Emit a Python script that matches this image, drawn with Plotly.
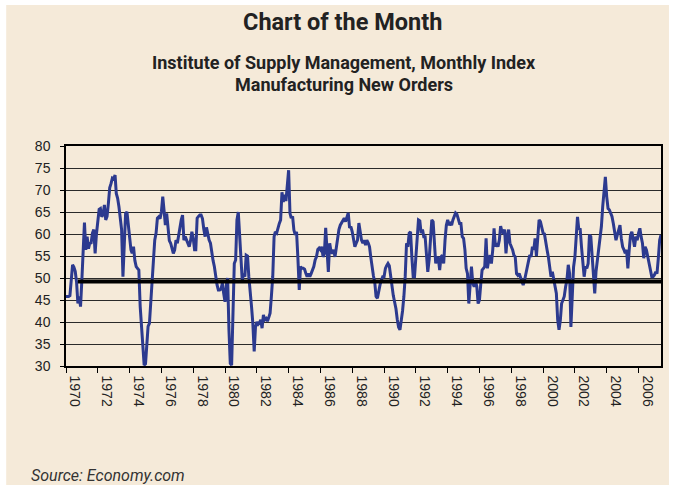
import plotly.graph_objects as go
import pandas as pd

# ISM Manufacturing New Orders index, monthly, Jan 1970 - Jun 2007
new_orders_1970s = [
    45.8, 45.8, 45.8, 46.0, 50.0, 53.0, 52.5, 51.5, 49.0, 44.2, 45.8, 43.5,
    49.7, 57.0, 62.6, 56.4, 59.4, 56.7, 57.9, 58.0, 60.2, 61.0, 55.6, 60.0,
    63.2, 65.6, 65.8, 63.9, 64.5, 66.6, 63.2, 64.0, 67.0, 70.5, 71.5, 72.7,
    72.5, 73.4, 69.2, 68.1, 66.2, 64.0, 61.0, 50.3, 60.2, 64.7, 65.0, 62.0,
    58.0, 56.4, 55.6, 57.1, 54.0, 52.6, 52.2, 51.8, 43.5, 38.2, 33.0, 30.2,
    30.5, 35.9, 39.0, 39.7, 44.2, 51.0, 55.0, 58.6, 60.2, 63.6, 63.9, 63.5,
    65.0, 68.5, 65.5, 62.0, 64.7, 61.7, 58.5, 57.9, 56.4, 55.6, 56.4, 58.6,
    57.9, 60.0, 61.7, 63.2, 64.3, 58.6, 59.4, 58.5, 57.9, 57.1, 58.5, 60.5,
    59.0, 56.4, 56.4, 63.6, 64.0, 64.3, 64.3, 63.5, 61.1, 59.4, 61.5, 60.0,
    58.6, 57.9, 55.6, 54.0, 52.6, 50.3, 48.5, 47.3, 47.3, 47.5, 48.8, 46.5,
]
new_orders_1980s = [
    44.6, 48.5, 50.0, 38.0, 30.6, 30.2, 42.0, 53.3, 54.1, 63.2, 65.0, 60.2,
    54.8, 49.2, 51.0, 50.3, 55.2, 55.0, 50.3, 47.3, 43.5, 39.7, 33.3, 38.9,
    40.0, 39.5, 39.8, 40.5, 38.6, 41.6, 40.5, 40.8, 40.2, 41.0, 42.0, 45.8,
    50.3, 59.4, 60.5, 60.2, 61.5, 62.4, 63.2, 69.5, 67.3, 68.9, 67.5, 71.5,
    74.5, 64.7, 63.6, 64.0, 60.9, 59.8, 60.5, 54.5, 47.3, 52.6, 52.2, 52.2,
    52.0, 51.0, 50.3, 51.0, 50.3, 51.0, 51.8, 52.6, 54.1, 54.8, 56.5, 56.8,
    56.4, 57.1, 54.8, 55.6, 61.4, 54.8, 51.4, 57.9, 56.0, 55.6, 56.4, 54.8,
    57.1, 59.4, 61.0, 62.0, 62.5, 63.2, 63.6, 62.8, 64.1, 64.8, 61.4, 61.7,
    60.5, 59.0, 57.1, 57.9, 58.6, 62.5, 60.0, 58.6, 57.9, 58.6, 57.5, 58.6,
    58.0, 57.1, 54.8, 52.1, 50.5, 49.0, 45.8, 45.4, 47.5, 48.5, 49.5, 50.3,
]
new_orders_1990s = [
    50.3, 52.2, 52.8, 53.3, 52.8, 50.3, 47.3, 46.0, 44.5, 43.0, 40.5, 38.8,
    38.2, 40.0, 42.5, 45.8, 50.3, 57.9, 57.1, 60.2, 60.5, 54.8, 50.3, 50.3,
    55.0, 61.0, 63.2, 63.0, 60.2, 61.0, 59.4, 59.4, 56.0, 51.4, 54.1, 58.6,
    63.2, 62.8, 58.6, 53.3, 54.8, 54.4, 51.8, 54.8, 55.2, 53.3, 58.6, 62.0,
    63.2, 62.0, 62.4, 62.0, 63.2, 64.3, 64.8, 64.5, 63.6, 62.4, 62.4, 59.4,
    59.0, 56.4, 52.2, 51.0, 44.2, 48.8, 52.6, 48.8, 48.0, 49.5, 48.0, 44.2,
    45.0, 48.8, 51.8, 52.2, 52.6, 59.0, 52.2, 54.1, 55.2, 53.3, 56.4, 61.3,
    57.1, 57.9, 57.1, 58.6, 61.8, 60.5, 60.2, 61.0, 55.6, 59.4, 61.0, 57.9,
    57.1, 56.4, 55.2, 54.8, 51.0, 50.6, 51.0, 50.0, 48.8, 48.4, 49.5, 51.0,
    52.0, 53.3, 55.2, 54.8, 57.1, 56.4, 59.0, 55.0, 60.5, 63.2, 62.8, 61.7,
]
new_orders_2000s = [
    60.2, 60.0, 57.9, 56.4, 54.8, 52.2, 50.3, 51.4, 49.5, 48.4, 46.5, 40.5,
    38.2, 40.5, 44.2, 45.0, 45.8, 48.0, 49.5, 53.0, 51.0, 38.9, 45.8, 52.5,
    54.8, 59.4, 63.9, 61.0, 61.3, 57.1, 53.3, 50.3, 52.6, 52.2, 53.3, 59.8,
    59.4, 54.8, 50.3, 46.5, 51.5, 54.1, 57.1, 60.2, 61.7, 66.2, 70.8, 73.0,
    68.5, 65.8, 65.5, 64.7, 64.0, 62.4, 60.9, 58.6, 59.8, 61.0, 62.0, 59.0,
    57.1, 56.4, 55.6, 56.4, 52.2, 56.4, 59.8, 60.5, 58.6, 57.1, 59.4, 58.6,
    60.2, 61.3, 59.4, 57.9, 54.5, 57.1, 56.4, 54.8, 53.3, 52.2, 50.3, 50.3,
    50.7, 51.4, 51.0, 54.5, 58.6, 59.8,
]
start_month = "1970-01-01"
reference_level = 49.2
reference_start = "1970-10-01"
tick_years = list(range(1970, 2007, 2))
y_ticks = list(range(30, 81, 5))

values = new_orders_1970s + new_orders_1980s + new_orders_1990s + new_orders_2000s
dates = pd.date_range(start=start_month, periods=len(values), freq="MS")
ref_dates = [pd.Timestamp(reference_start), dates[-1]]

BEIGE = "#F5EAD9"
NAVY = "#2C3A8F"

fig = go.Figure()
fig.add_trace(go.Scatter(x=dates, y=values, mode="lines",
                         line=dict(color=NAVY, width=3), showlegend=False))
fig.add_trace(go.Scatter(x=ref_dates, y=[reference_level] * 2, mode="lines",
                         line=dict(color="black", width=4), showlegend=False))

tick_font = dict(family="Liberation Sans Narrow, Arial Narrow, Liberation Sans, Arial",
                 size=14, color="#222")

fig.update_xaxes(
    type="date", range=[dates[0], dates[-1]],
    tickmode="array",
    tickvals=[pd.Timestamp(f"{y}-01-01") for y in tick_years],
    ticktext=[str(y) for y in tick_years],
    tickangle=90, ticks="outside", ticklen=5, tickcolor="black",
    ticklabelshift=9,
    showgrid=False, showline=True, linecolor="black", linewidth=1.5, mirror=True,
    tickfont=tick_font, zeroline=False,
)
fig.update_yaxes(
    range=[30, 80], tickvals=y_ticks, ticks="outside", ticklen=4, tickcolor="black",
    showgrid=True, gridcolor="#2a2a2a", gridwidth=1,
    showline=True, linecolor="black", linewidth=1.5, mirror=True,
    tickfont=tick_font, zeroline=False, ticklabelstandoff=7,
)

L, R, T, B = 66, 12, 146, 121
W, H = 675, 487
pw, ph = W - L - R, H - T - B

def px_x(px):
    return (px - L) / pw

def px_y(py):
    return (H - B - py) / ph

fig.add_shape(type="rect", xref="paper", yref="paper",
              x0=px_x(6), x1=px_x(671), y0=px_y(485), y1=px_y(5),
              fillcolor=BEIGE, line=dict(width=0), layer="below")

title_font = "Roboto, Noto Sans, DejaVu Sans"
fig.add_annotation(text="<b>Chart of the Month</b>", xref="paper", yref="paper",
                   x=px_x(343), y=px_y(22), showarrow=False, xanchor="center", yanchor="middle",
                   font=dict(family=title_font, size=23.5, color="#222"))
fig.add_annotation(text="<b>Institute of Supply Management, Monthly Index</b>", xref="paper", yref="paper",
                   x=px_x(345), y=px_y(62), showarrow=False, xanchor="center", yanchor="middle",
                   font=dict(family=title_font, size=18, color="#222"))
fig.add_annotation(text="<b>Manufacturing New Orders</b>", xref="paper", yref="paper",
                   x=px_x(345), y=px_y(85), showarrow=False, xanchor="center", yanchor="middle",
                   font=dict(family=title_font, size=18, color="#222"))
fig.add_annotation(text="<i>Source: Economy.com</i>", xref="paper", yref="paper",
                   x=px_x(29), y=px_y(475), showarrow=False, xanchor="left", yanchor="middle",
                   font=dict(family=title_font, size=16, color="#333"))

fig.update_layout(
    width=W, height=H, autosize=False,
    margin=dict(l=L, r=R, t=T, b=B, pad=0),
    paper_bgcolor="white", plot_bgcolor=BEIGE,
    showlegend=False,
)

fig.write_html("out.html", config={"displayModeBar": False},
               post_script="document.body.style.margin='0';document.body.style.overflow='hidden';")
